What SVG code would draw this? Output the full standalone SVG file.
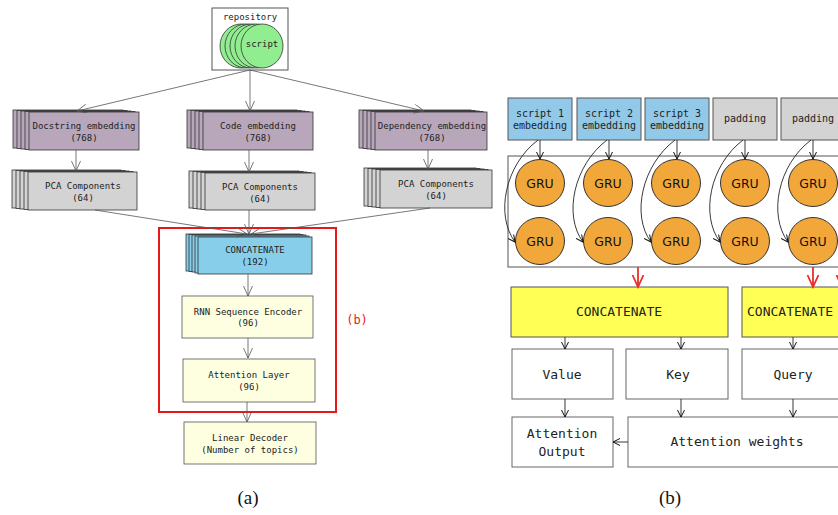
<svg xmlns="http://www.w3.org/2000/svg" width="838" height="515" viewBox="0 0 838 515">
<defs>
<marker id="ag" markerUnits="userSpaceOnUse" markerWidth="11" markerHeight="10" refX="10" refY="4.5" orient="auto"><path d="M0,0 L10,4.5 L0,9" fill="none" stroke="#555" stroke-width="0.8"/></marker>
<marker id="ab" markerUnits="userSpaceOnUse" markerWidth="8" markerHeight="8" refX="7" refY="3.5" orient="auto"><path d="M0,0 L7,3.5 L0,7" fill="none" stroke="#111" stroke-width="1"/></marker>
<marker id="ar" markerUnits="userSpaceOnUse" markerWidth="14" markerHeight="13" refX="12" refY="5.5" orient="auto"><path d="M0,0 L12,5.5 L0,11" fill="none" stroke="#e8302a" stroke-width="1.8"/></marker>
</defs>
<style>
.m{font-family:"DejaVu Sans Mono","Liberation Mono",monospace;fill:#222;text-anchor:middle;dominant-baseline:middle}
.s9{font-size:9px}
.s10{font-size:10px}
.s13{font-size:13px}
.emb{fill:#b8a7bb;stroke:#333;stroke-width:0.8}
.pca{fill:#d3d3d3;stroke:#333;stroke-width:0.8}
.cat{fill:#87ceeb;stroke:#333;stroke-width:0.8}
.ly{fill:#fefee0;stroke:#555;stroke-width:0.8}
.wb{fill:#fff;stroke:#666;stroke-width:1}
.in1{fill:#93c9e8;stroke:#555;stroke-width:1}
.in2{fill:#d3d3d3;stroke:#555;stroke-width:1}
.gru{fill:#f2a73b;stroke:#333;stroke-width:1}
.gt{font-family:"DejaVu Sans","Liberation Sans",sans-serif;font-size:12.5px;fill:#111;text-anchor:middle;dominant-baseline:middle}
.yl{fill:#ffff55;stroke:#555;stroke-width:1}
.cg{fill:none;stroke:#555;stroke-width:0.8}
.cb{fill:none;stroke:#222;stroke-width:0.9}
.cr{fill:none;stroke:#e8302a;stroke-width:1.8}
.cap{font-family:"Liberation Serif","Times New Roman",serif;font-size:19px;fill:#111;text-anchor:middle}
</style>

<!-- panel (a) -->
<g id="repository">
<rect x="212" y="8" width="76" height="62" fill="#fff" stroke="#555" stroke-width="1"/>
<text class="m s9" x="250" y="17">repository</text>
<g fill="#90ee90" stroke="#333" stroke-width="0.8">
<ellipse cx="241" cy="46" rx="21" ry="22"/>
<ellipse cx="246" cy="46" rx="21" ry="22"/>
<ellipse cx="251" cy="46" rx="21" ry="22"/>
<ellipse cx="256" cy="46" rx="21" ry="22"/>
<ellipse cx="262" cy="46" rx="21" ry="22"/>
</g>
<text class="m s9" x="262" y="44">script</text>
</g>

<g id="docstring-embedding">
<rect class="emb" x="13" y="110" width="110" height="38"/>
<rect class="emb" x="17" y="110.5" width="110" height="38"/>
<rect class="emb" x="21" y="111" width="110" height="38"/>
<rect class="emb" x="25" y="111.5" width="110" height="38"/>
<rect class="emb" x="29" y="112" width="110" height="38"/>
<text class="m s9" x="84" y="126">Docstring embedding</text>
<text class="m s9" x="84" y="138">(768)</text>
</g>
<g id="code-embedding">
<rect class="emb" x="187" y="110" width="110" height="38"/>
<rect class="emb" x="191" y="110.5" width="110" height="38"/>
<rect class="emb" x="195" y="111" width="110" height="38"/>
<rect class="emb" x="199" y="111.5" width="110" height="38"/>
<rect class="emb" x="203" y="112" width="110" height="38"/>
<text class="m s9" x="258" y="126">Code embedding</text>
<text class="m s9" x="258" y="138">(768)</text>
</g>
<g id="dependency-embedding">
<rect class="emb" x="359" y="110" width="112" height="38"/>
<rect class="emb" x="363" y="110.5" width="112" height="38"/>
<rect class="emb" x="367" y="111" width="112" height="38"/>
<rect class="emb" x="371" y="111.5" width="112" height="38"/>
<rect class="emb" x="375" y="112" width="112" height="38"/>
<text class="m s9" x="432" y="126">Dependency embedding</text>
<text class="m s9" x="432" y="138">(768)</text>
</g>

<g id="pca-left">
<rect class="pca" x="12" y="170" width="109" height="38"/>
<rect class="pca" x="16" y="170.5" width="109" height="38"/>
<rect class="pca" x="20" y="171" width="109" height="38"/>
<rect class="pca" x="24" y="171.5" width="109" height="38"/>
<rect class="pca" x="28" y="172" width="109" height="38"/>
<text class="m s9" x="83" y="186">PCA Components</text>
<text class="m s9" x="83" y="198">(64)</text>
</g>
<g id="pca-center">
<rect class="pca" x="189" y="171" width="110" height="37"/>
<rect class="pca" x="193" y="171.5" width="110" height="37"/>
<rect class="pca" x="197" y="172" width="110" height="37"/>
<rect class="pca" x="201" y="172.5" width="110" height="37"/>
<rect class="pca" x="205" y="173" width="110" height="37"/>
<text class="m s9" x="260" y="187">PCA Components</text>
<text class="m s9" x="260" y="199">(64)</text>
</g>
<g id="pca-right">
<rect class="pca" x="364" y="168" width="112" height="38"/>
<rect class="pca" x="368" y="168.5" width="112" height="38"/>
<rect class="pca" x="372" y="169" width="112" height="38"/>
<rect class="pca" x="376" y="169.5" width="112" height="38"/>
<rect class="pca" x="380" y="170" width="112" height="38"/>
<text class="m s9" x="436" y="184">PCA Components</text>
<text class="m s9" x="436" y="196">(64)</text>
</g>

<g id="concatenate-a">
<rect class="cat" x="186" y="234" width="114" height="37"/>
<rect class="cat" x="189" y="234.5" width="114" height="37"/>
<rect class="cat" x="192" y="235" width="114" height="37"/>
<rect class="cat" x="195" y="236" width="114" height="37"/>
<rect class="cat" x="198" y="237" width="114" height="37"/>
<text class="m s9" x="255" y="250">CONCATENATE</text>
<text class="m s9" x="255" y="262">(192)</text>
</g>
<g id="rnn-encoder">
<rect class="ly" x="182" y="296" width="131" height="42"/>
<text class="m s9" x="248" y="312">RNN Sequence Encoder</text>
<text class="m s9" x="248" y="323">(96)</text>
</g>
<g id="attention-layer">
<rect class="ly" x="183" y="359" width="132" height="43"/>
<text class="m s9" x="249" y="375">Attention Layer</text>
<text class="m s9" x="249" y="387">(96)</text>
</g>
<g id="linear-decoder">
<rect class="ly" x="184" y="422" width="132" height="42"/>
<text class="m s9" x="250" y="438">Linear Decoder</text>
<text class="m s9" x="250" y="450">(Number of topics)</text>
</g>
<g id="group-b">
<rect x="159" y="228" width="177" height="184" fill="none" stroke="#e41a1a" stroke-width="2"/>
<text x="357" y="320" font-family="DejaVu Sans Mono,monospace" font-size="12" fill="#e41a1a" text-anchor="middle" dominant-baseline="middle">(b)</text>
</g>

<!-- panel (b) -->
<g id="inputs">
<rect class="in1" x="508" y="98" width="64" height="42"/>
<text class="m s10" x="540" y="114">script 1</text>
<text class="m s10" x="540" y="126">embedding</text>
<rect class="in1" x="577" y="98" width="64" height="42"/>
<text class="m s10" x="609" y="114">script 2</text>
<text class="m s10" x="609" y="126">embedding</text>
<rect class="in1" x="645" y="98" width="64" height="42"/>
<text class="m s10" x="677" y="114">script 3</text>
<text class="m s10" x="677" y="126">embedding</text>
<rect class="in2" x="713" y="98" width="64" height="42"/>
<text class="m s10" x="745" y="119">padding</text>
<rect class="in2" x="781" y="98" width="64" height="42"/>
<text class="m s10" x="813" y="119">padding</text>
</g>
<g id="gru-block">
<rect x="508" y="156" width="340" height="111" fill="#fff" stroke="#555" stroke-width="1"/>
<ellipse class="gru" cx="540" cy="183" rx="24.5" ry="23.5"/><text class="gt" x="540" y="184">GRU</text>
<ellipse class="gru" cx="608" cy="183" rx="24.5" ry="23.5"/><text class="gt" x="608" y="184">GRU</text>
<ellipse class="gru" cx="676" cy="183" rx="24.5" ry="23.5"/><text class="gt" x="676" y="184">GRU</text>
<ellipse class="gru" cx="745" cy="183" rx="24.5" ry="23.5"/><text class="gt" x="745" y="184">GRU</text>
<ellipse class="gru" cx="813" cy="183" rx="24.5" ry="23.5"/><text class="gt" x="813" y="184">GRU</text>
<ellipse class="gru" cx="540" cy="241" rx="24.5" ry="23.5"/><text class="gt" x="540" y="242">GRU</text>
<ellipse class="gru" cx="608" cy="241" rx="24.5" ry="23.5"/><text class="gt" x="608" y="242">GRU</text>
<ellipse class="gru" cx="676" cy="241" rx="24.5" ry="23.5"/><text class="gt" x="676" y="242">GRU</text>
<ellipse class="gru" cx="745" cy="241" rx="24.5" ry="23.5"/><text class="gt" x="745" y="242">GRU</text>
<ellipse class="gru" cx="813" cy="241" rx="24.5" ry="23.5"/><text class="gt" x="813" y="242">GRU</text>
</g>
<g id="concatenate-b1">
<rect class="yl" x="511" y="287" width="217" height="50"/>
<text class="m s13" x="619" y="312">CONCATENATE</text>
</g>
<g id="concatenate-b2">
<rect class="yl" x="742" y="287" width="120" height="50"/>
<text class="m s13" x="747" y="312" style="text-anchor:start">CONCATENATE</text>
</g>
<g id="value"><rect class="wb" x="512" y="349" width="101" height="50"/><text class="m s13" x="562" y="375">Value</text></g>
<g id="key"><rect class="wb" x="626" y="349" width="102" height="50"/><text class="m s13" x="678" y="375">Key</text></g>
<g id="query"><rect class="wb" x="742" y="349" width="120" height="50"/><text class="m s13" x="793" y="375">Query</text></g>
<g id="attention-output"><rect class="wb" x="512" y="417" width="101" height="50"/><text class="m s13" x="562" y="434">Attention</text><text class="m s13" x="562" y="452">Output</text></g>
<g id="attention-weights"><rect class="wb" x="628" y="417" width="230" height="50"/><text class="m s13" x="737" y="442">Attention weights</text></g>

<g id="connectors">
<g class="cg" marker-end="url(#ag)">
<path d="M250,70 L77,111"/>
<path d="M250,70 L250,111"/>
<path d="M250,70 L424,111"/>
<path d="M76,150 L76,171"/>
<path d="M249,150 L249,172"/>
<path d="M428,150 L428,169"/>
<path d="M95,210 L247,234"/>
<path d="M249,210 L249,234"/>
<path d="M430,208 L251,234"/>
<path d="M248,274 L248,296"/>
<path d="M248,338 L248,358"/>
<path d="M247,402 L247,422"/>
</g>
<g class="cb" marker-end="url(#ab)" stroke-width="0.8">
<path d="M540,140 L540,159"/>
<path d="M609,140 L609,159"/>
<path d="M677,140 L677,159"/>
<path d="M745,140 L745,159"/>
<path d="M813,140 L813,159"/>
<path d="M538,140 C505,165 495,215 515,242"/>
<path d="M607,140 C574,165 563,215 583,242"/>
<path d="M675,140 C642,165 631,215 651,242"/>
<path d="M743,140 C710,165 700,215 720,242"/>
<path d="M811,140 C778,165 768,215 788,242"/>
</g>
<g class="cb" marker-end="url(#ab)">
<path d="M565,337 L565,349"/>
<path d="M681,337 L681,349"/>
<path d="M793,337 L793,349"/>
<path d="M565,399 L565,417"/>
<path d="M681,399 L681,417"/>
<path d="M793,399 L793,417"/>
<path d="M628,442 L613,442"/>
</g>
<g class="cr" marker-end="url(#ar)">
<path d="M638,267 L638,287"/>
<path d="M813,267 L813,287"/>
<path d="M842,267 L842,287"/>
</g>
</g>

<text class="cap" x="248" y="504">(a)</text>
<text class="cap" x="670" y="504">(b)</text>
</svg>
